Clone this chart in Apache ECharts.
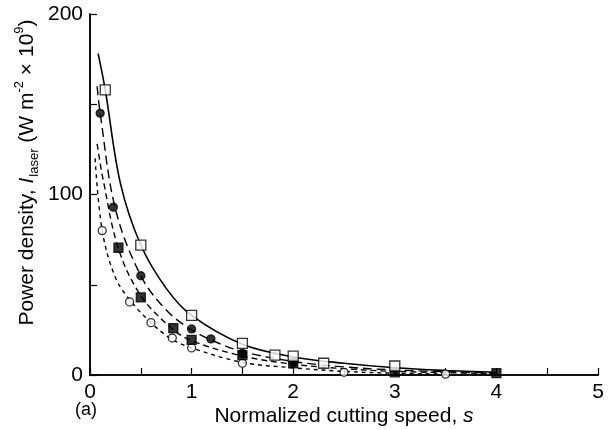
<!DOCTYPE html>
<html>
<head>
<meta charset="utf-8">
<script src="https://cdn.jsdelivr.net/npm/echarts@6/dist/echarts.min.js"></script>
<style>
  html, body { margin: 0; padding: 0; background: #fff; }
  #main { width: 609px; height: 430px; }
</style>
</head>
<body>
<div id="main"></div>
<script>
// fitted curves
var solidCurve = [[0.08,178],[0.15,158],[0.3,106],[0.5,72],[0.75,48],[1,33],[1.5,17],[2,10],[2.5,6.5],[3,4],[3.5,2.5],[4,1.5]];
var longDashCurve = [[0.07,160],[0.1,145],[0.25,92],[0.5,55],[0.75,36],[1,25],[1.25,18],[1.5,13],[2,7.5],[2.5,4.5],[3,2.8],[4,1]];
var midDashCurve = [[0.07,128],[0.13,108],[0.28,70],[0.5,44],[0.8,26],[1,19],[1.5,10.5],[2,6],[2.5,3.5],[3,2],[4,0.8]];
var shortDashCurve = [[0.05,120],[0.12,80],[0.25,54],[0.4,41],[0.6,29],[0.8,20],[1,15],[1.5,7],[2,4],[2.5,2],[3,1],[3.5,0.5]];

// measured points
var openSquares = [[0.15,158],[0.5,72],[1,33],[1.5,17.5],[1.82,11],[2,10.5],[2.3,6.5],[3,5]];
var filledCircles = [[0.1,145],[0.23,93],[0.5,55],[1,25.5],[1.19,20],[1.5,12],[2,7]];
var filledSquares = [[0.28,70.5],[0.5,43],[0.82,26],[1,19.5],[1.5,11],[2,6.5],[3,1.5],[4,1]];
var openCircles = [[0.12,80],[0.39,40.5],[0.6,29],[0.81,20.5],[1,15],[1.5,6.5],[2.5,1.5],[3.5,0.5]];

var xTitle = 'Normalized cutting speed, {i|s}';
var yTitle = '{t|Power density, }{i|I}{sub|laser}{t| (W m}{sup|-2}{t| \u00d7 10}{sup|9}{t|)}';

var myChart = echarts.init(document.getElementById('main'));
var font = 'Liberation Sans, Arial, sans-serif';

function curve(data, type) {
    return {
        type: 'line', data: data, smooth: 0.35, symbol: 'none', z: 2,
        lineStyle: { color: '#000', width: type === 'solid' ? 1.6 : 1.4, type: type }
    };
}
function marks(data, symbol, size, fill) {
    return {
        type: 'scatter', data: data, symbol: symbol, symbolSize: size, z: 5,
        itemStyle: { color: fill, borderColor: '#000', borderWidth: 1.3 }
    };
}

var option = {
    animation: false,
    backgroundColor: '#fff',
    textStyle: { fontFamily: font },
    grid: { left: 90, right: 11, top: 14, bottom: 55, outerBoundsMode: 'none', containLabel: false },
    xAxis: [{
        type: 'value', min: 0, max: 5, interval: 0.5,
        name: xTitle, nameLocation: 'middle', nameGap: 31, nameMoveOverlap: false,
        nameTextStyle: { color: '#000', fontSize: 21, fontFamily: font,
            rich: { i: { fontStyle: 'italic', fontSize: 21, fontFamily: font } } },
        axisLine: { lineStyle: { color: '#000', width: 1.5 } },
        axisTick: { inside: true, length: 7, lineStyle: { color: '#000', width: 1.2 } },
        axisLabel: { color: '#000', fontSize: 21, margin: 7,
            formatter: function (v) { return v % 1 === 0 ? String(v) : ''; } },
        splitLine: { show: false }
    }, {
        type: 'value', position: 'top', min: 0, max: 5,
        axisLine: { show: true, lineStyle: { color: '#000', width: 1.5 } },
        axisTick: { show: false }, axisLabel: { show: false }, splitLine: { show: false }
    }],
    yAxis: [{
        type: 'value', min: 0, max: 200, interval: 50,
        name: yTitle, nameLocation: 'middle', nameGap: 49, nameRotate: 90, nameMoveOverlap: false,
        nameTextStyle: { color: '#000', fontFamily: font, padding: [0, 0, 0, 44],
            rich: {
                t: { fontSize: 21, fontFamily: font, lineHeight: 28, verticalAlign: 'middle' },
                i: { fontSize: 21, fontFamily: font, fontStyle: 'italic', lineHeight: 28, verticalAlign: 'middle' },
                sub: { fontSize: 13, fontFamily: font, lineHeight: 13, verticalAlign: 'bottom', padding: [0, 0, 0, 1] },
                sup: { fontSize: 13, fontFamily: font, lineHeight: 13, verticalAlign: 'top' }
            } },
        axisLine: { show: true, lineStyle: { color: '#000', width: 1.5 } },
        axisTick: { inside: true, length: 7, lineStyle: { color: '#000', width: 1.2 } },
        axisLabel: { color: '#000', fontSize: 21, margin: 7,
            formatter: function (v) { return v % 100 === 0 ? String(v) : ''; } },
        splitLine: { show: false }
    }, {
        type: 'value', position: 'right', min: 0, max: 200,
        axisLine: { show: true, lineStyle: { color: '#000', width: 1.5 } },
        axisTick: { show: false }, axisLabel: { show: false }, splitLine: { show: false }
    }],
    graphic: [{
        type: 'text', left: 75, top: 401,
        style: { text: '(a)', font: '18px ' + font, fill: '#000' }
    }],
    series: [
        curve(solidCurve, 'solid'),
        curve(longDashCurve, [9, 5]),
        curve(midDashCurve, [6, 4]),
        curve(shortDashCurve, [4, 4]),
        marks(openCircles, 'circle', 8, '#fff'),
        marks(filledSquares, 'rect', 9, '#000'),
        marks(filledCircles, 'circle', 8, '#000'),
        marks(openSquares, 'rect', 10, '#fff')
    ]
};

myChart.setOption(option);
</script>
</body>
</html>
